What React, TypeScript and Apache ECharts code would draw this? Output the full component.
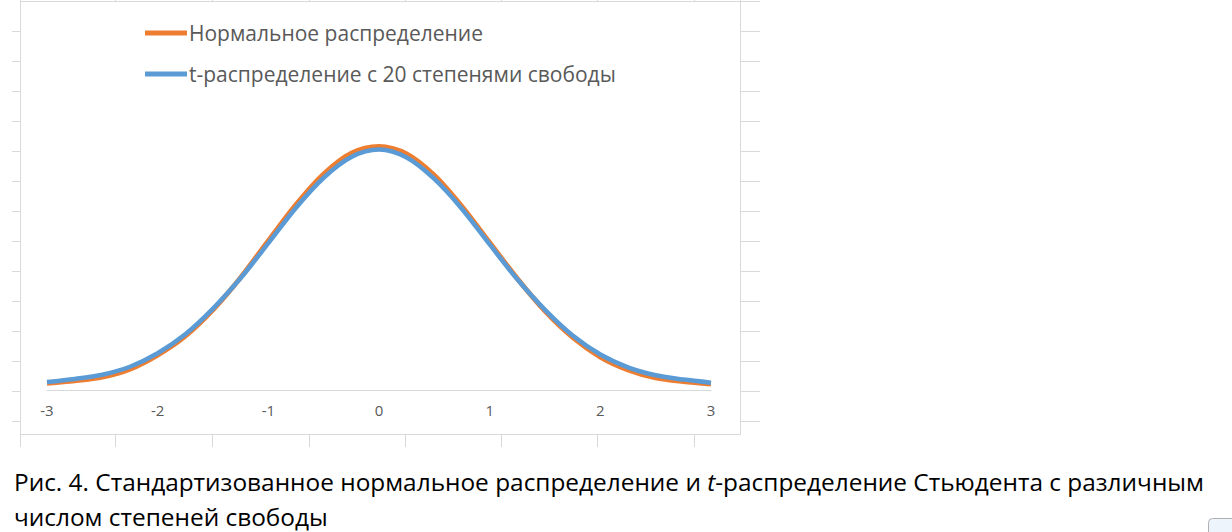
import React, { useEffect, useRef } from "react";
import * as echarts from "echarts";

const xValues = [-3, -2.75, -2.5, -2.25, -2, -1.75, -1.5, -1.25, -1, -0.75, -0.5, -0.25, 0, 0.25, 0.5, 0.75, 1, 1.25, 1.5, 1.75, 2, 2.25, 2.5, 2.75, 3];
const normalValues = [0.011, 0.015, 0.021, 0.034, 0.057, 0.088, 0.131, 0.184, 0.244, 0.303, 0.353, 0.387, 0.398, 0.386, 0.351, 0.300, 0.241, 0.182, 0.129, 0.086, 0.054, 0.033, 0.020, 0.014, 0.010];
const tValues = [0.013, 0.018, 0.025, 0.038, 0.060, 0.091, 0.133, 0.183, 0.240, 0.298, 0.347, 0.381, 0.393, 0.380, 0.345, 0.296, 0.238, 0.181, 0.131, 0.089, 0.058, 0.037, 0.024, 0.017, 0.012];
const xTicks = [-3, -2, -1, 0, 1, 2, 3];
const seriesNames = ["Нормальное распределение", "t-распределение с 20 степенями свободы"];
const seriesColors = ["#ED7D31", "#5B9BD5"];
const captionLine1a = "Рис. 4. Стандартизованное нормальное распределение и ";
const captionItalic = "t";
const captionLine1b = "-распределение Стьюдента с различным";
const captionLine2 = "числом степеней свободы";

const frameColor = "#d9d9d9";

function buildFrame() {
  const els: any[] = [];
  const ln = (x1: number, y1: number, x2: number, y2: number, c = frameColor) =>
    els.push({ type: "line", shape: { x1, y1, x2, y2 }, style: { stroke: c, lineWidth: 1 }, silent: true });
  ln(20.5, 0, 20.5, 447);
  ln(20, 1.5, 760, 1.5);
  ln(20, 434.5, 741, 434.5);
  ln(740.5, 0, 740.5, 435);
  for (let k = 0; k < 14; k++) {
    const y = 31.5 + 30 * k;
    ln(12, y, 20, y);
    ln(741, y, 760, y);
  }
  [115, 212, 309, 405, 501, 597, 694].forEach((x) => {
    ln(x + 0.5, 435, x + 0.5, 447);
    ln(x + 0.5, 0, x + 0.5, 2);
  });
  return els;
}

export default function App() {
  const ref = useRef<HTMLDivElement>(null);
  useEffect(() => {
    if (!ref.current) return;
    const chart = echarts.init(ref.current, undefined, { renderer: "svg" });
    const font = "'Open Sans', 'Noto Sans', sans-serif";
    chart.setOption({
      animation: false,
      backgroundColor: "#ffffff",
      grid: { left: 47, right: 1232 - 711, top: 23, bottom: 142, containLabel: false },
      legend: {
        orient: "vertical",
        left: 145,
        top: 22,
        padding: 0,
        itemWidth: 42,
        itemHeight: 5,
        itemGap: 19,
        textStyle: { color: "#595959", fontSize: 21, lineHeight: 22, fontFamily: font, padding: [0, 0, 0, -3] },
        data: seriesNames.map((n, i) => ({ name: n, icon: "rect", itemStyle: { color: seriesColors[i] } })),
      },
      xAxis: {
        type: "value",
        min: -3,
        max: 3,
        interval: 1,
        axisLine: { show: true, lineStyle: { color: frameColor, width: 1 }, onZero: false },
        axisTick: { show: false },
        splitLine: { show: false },
        axisLabel: {
          color: "#595959",
          fontSize: 15,
          fontFamily: font,
          margin: 12,
          formatter: (v: number) => (xTicks.includes(v) ? String(v) : ""),
        },
      },
      yAxis: {
        type: "value",
        min: 0,
        max: 0.6,
        show: false,
        splitLine: { show: false },
      },
      series: [
        {
          name: seriesNames[0],
          type: "line",
          smooth: 0.3,
          symbol: "none",
          lineStyle: { color: seriesColors[0], width: 5 },
          itemStyle: { color: seriesColors[0] },
          data: xValues.map((x, i) => [x, normalValues[i]]),
          z: 2,
        },
        {
          name: seriesNames[1],
          type: "line",
          smooth: 0.3,
          symbol: "none",
          lineStyle: { color: seriesColors[1], width: 4.5 },
          itemStyle: { color: seriesColors[1] },
          data: xValues.map((x, i) => [x, tValues[i]]),
          z: 3,
        },
      ],
      graphic: [
        ...buildFrame(),
        {
          type: "text",
          x: 14,
          y: 481,
          silent: true,
          style: {
            text: `{n|${captionLine1a}}{i|${captionItalic}}{n|${captionLine1b}}`,
            verticalAlign: "middle",
            rich: {
              n: { fontSize: 24.4, fontFamily: font, fill: "#000000" },
              i: { fontSize: 24.4, fontFamily: font, fill: "#000000", fontStyle: "italic" },
            },
          },
        },
        {
          type: "text",
          x: 14,
          y: 516,
          silent: true,
          style: { text: captionLine2, fontSize: 24.4, fontFamily: font, fill: "#000000", verticalAlign: "middle" },
        },
        {
          type: "rect",
          shape: { x: 1208.5, y: 518.5, width: 40, height: 30, r: 4 },
          style: { fill: "#eef4fb", stroke: "#b0b0b0", lineWidth: 1 },
          silent: true,
        },
      ],
    });
    return () => chart.dispose();
  }, []);
  return (
    <div
      ref={ref}
      style={{ position: "fixed", left: 0, top: 0, width: 1232, height: 532, background: "#fff" }}
    />
  );
}
